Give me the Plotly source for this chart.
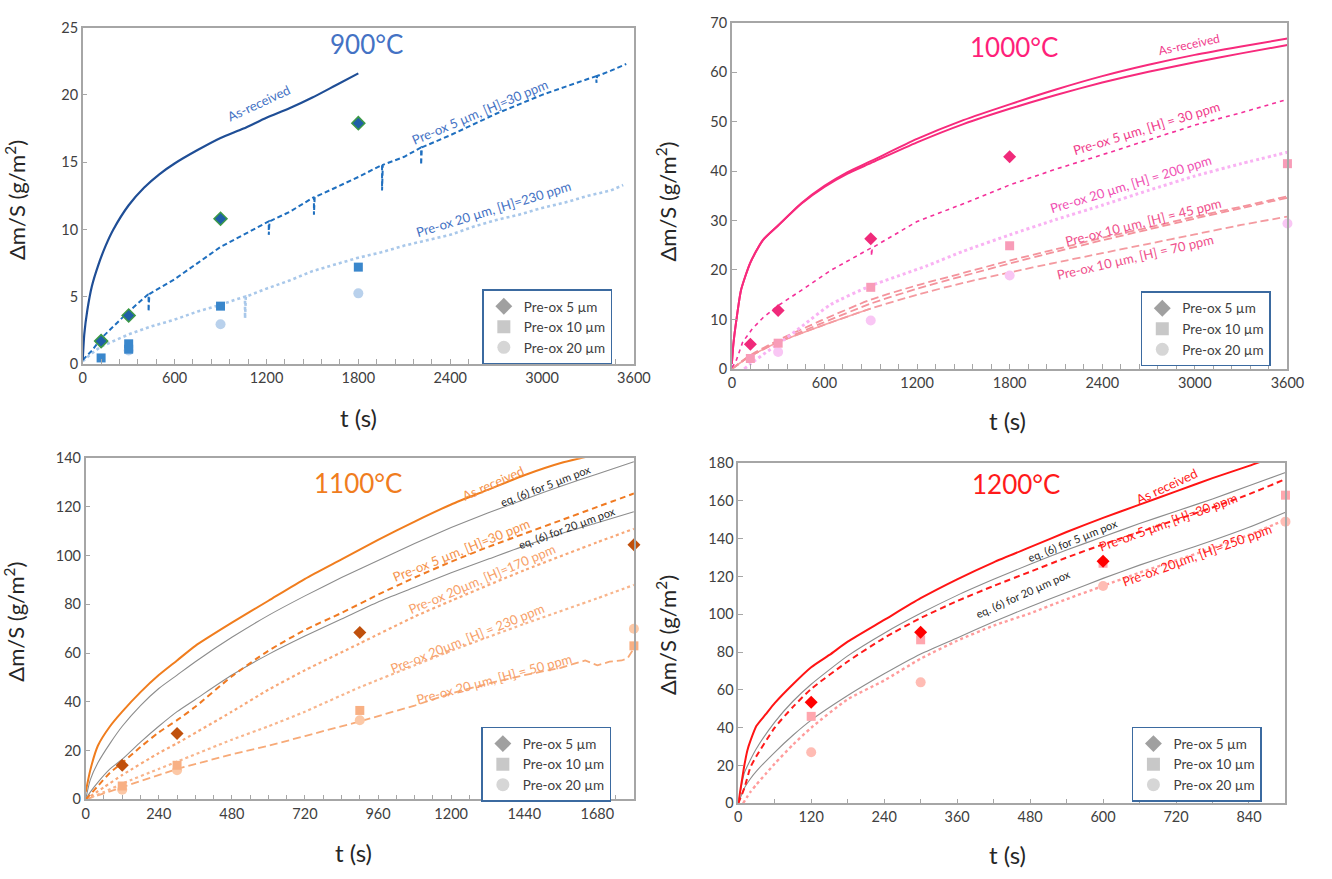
import plotly.graph_objects as go

# ---------------- 900 °C ----------------
t900_ar = [0, 10, 30, 60, 100, 150, 200, 300, 400, 500, 600, 750, 900, 1050, 1200, 1350, 1500, 1650, 1800]
v900_ar = [0.3, 2.2, 4.0, 5.8, 7.3, 8.8, 10.0, 11.8, 13.1, 14.1, 14.9, 15.9, 16.8, 17.5, 18.3, 19.0, 19.8, 20.7, 21.6]
t900_p5 = [0, 60, 120, 200, 300, 430, 430, 435, 600, 750, 900, 1050, 1215, 1215, 1220, 1350, 1510, 1510, 1515,
           1650, 1800, 1955, 1955, 1960, 2100, 2210, 2210, 2215, 2400, 2550, 2700, 2850, 3000, 3150, 3300, 3355, 3355, 3360, 3450, 3550]
v900_p5 = [0.3, 1.0, 1.9, 2.8, 3.9, 5.2, 3.9, 5.2, 6.3, 7.5, 8.7, 9.6, 10.6, 9.6, 10.6, 11.3, 12.4, 11.1, 12.4,
           13.1, 13.9, 14.8, 12.9, 14.8, 15.4, 16.1, 14.8, 16.1, 17.0, 17.8, 18.6, 19.3, 20.0, 20.6, 21.2, 21.4, 20.9, 21.4, 21.8, 22.3]
t900_p20 = [0, 60, 120, 200, 300, 450, 600, 750, 900, 1000, 1060, 1060, 1065, 1200, 1350, 1500, 1650, 1800, 1950,
            2100, 2250, 2400, 2550, 2700, 2850, 3000, 3150, 3300, 3450, 3530]
v900_p20 = [0.2, 0.8, 1.3, 1.7, 2.2, 2.8, 3.3, 3.9, 4.4, 4.8, 5.0, 3.4, 5.0, 5.6, 6.2, 6.9, 7.4, 7.9, 8.3,
            8.8, 9.2, 9.6, 10.2, 10.7, 11.1, 11.6, 12.0, 12.5, 12.9, 13.3]
t900_d5 = [120, 300, 900, 1800]
v900_d5 = [1.7, 3.6, 10.8, 17.9]
t900_s10 = [120, 300, 300, 900, 1800]
v900_s10 = [0.45, 1.5, 1.1, 4.3, 7.2]
t900_c20 = [300, 900, 1800]
v900_c20 = [1.0, 2.95, 5.25]

# ---------------- 1000 °C ----------------
t1000_ar = [0, 10, 30, 60, 120, 200, 300, 450, 600, 750, 900, 1200, 1500, 1800, 2100, 2400, 2700, 3000, 3300, 3600]
v1000_ar1 = [1.0, 5, 10, 16, 21.5, 26, 29, 33.5, 37, 39.8, 42, 46.5, 50.3, 53.5, 56.5, 59.2, 61.5, 63.5, 65.2, 66.8]
v1000_ar2 = [1.0, 5, 10, 16, 21.5, 26, 29, 33.4, 36.8, 39.5, 41.6, 45.8, 49.5, 52.6, 55.4, 57.9, 60.1, 62.0, 63.8, 65.5]
t1000_p5 = [0, 25, 70, 130, 200, 300, 470, 640, 830, 905, 905, 910, 1200, 1500, 1800, 2100, 2400, 2700, 3000, 3300, 3600]
v1000_p5 = [0.3, 1.4, 5.4, 8.0, 10.3, 12.8, 16.3, 19.9, 23.2, 24.5, 22.8, 24.5, 29.8, 33.4, 37.2, 40.4, 43.3, 46.3, 49.3, 51.8, 54.5]
t1000_p20 = [80, 150, 220, 300, 470, 640, 900, 1260, 1500, 1800, 2100, 2400, 2700, 3000, 3300, 3600]
v1000_p20 = [0.0, 1.7, 3.3, 5.0, 9.0, 13.0, 16.8, 20.8, 23.8, 27.1, 30.2, 33.1, 36.1, 39.0, 41.5, 43.8]
t1000_p10 = [0, 110, 300, 580, 900, 1200, 1500, 1800, 2100, 2400, 2700, 3000, 3300, 3600]
v1000_p10a = [0, 2.6, 5.8, 9.8, 14.0, 16.9, 19.4, 21.9, 24.2, 26.5, 28.6, 30.8, 32.8, 34.9]
v1000_p10b = [0, 2.4, 5.5, 9.2, 13.2, 16.2, 18.8, 21.3, 23.7, 26.0, 28.2, 30.4, 32.5, 34.6]
v1000_p10c = [0, 2.4, 5.4, 8.7, 12.2, 15.0, 17.4, 19.5, 21.5, 23.4, 25.3, 27.2, 29.1, 30.8]
t1000_p10s = [0, 110, 300, 580, 900]
v1000_p10s = [0, 2.4, 5.4, 8.7, 12.2]
t1000_d5 = [120, 300, 900, 1800]
v1000_d5 = [5.0, 11.8, 26.3, 42.9]
t1000_s10 = [120, 300, 900, 1800, 3600]
v1000_s10 = [2.1, 5.2, 16.5, 24.9, 41.5]
t1000_c20 = [300, 900, 1800, 3600]
v1000_c20 = [3.4, 9.8, 18.9, 29.4]

# ---------------- 1100 °C ----------------
t1100_ar = [0, 15, 40, 80, 120, 180, 240, 300, 360, 480, 600, 720, 840, 960, 1080, 1200, 1320, 1440, 1560, 1660]
v1100_ar = [3, 12, 22, 30, 36, 44, 51, 57, 63, 72.5, 81.5, 90.5, 98.5, 106.5, 114, 121, 127, 133, 138, 141]
t1100_eq = [0, 15, 40, 80, 120, 180, 240, 300, 360, 480, 600, 720, 840, 960, 1080, 1200, 1320, 1440, 1560, 1680, 1800]
v1100_eq5 = [0, 8, 15, 23, 30, 38.5, 45.5, 51, 56.5, 66.5, 75.5, 83.5, 91, 98, 105, 111.5, 117.5, 123, 128.5, 133.5, 138.5]
v1100_eq20 = [0, 3, 7, 12.5, 16.5, 23.5, 30, 36, 41, 51, 59.5, 67, 74, 81, 87, 93, 98.5, 104, 109, 113.5, 118]
v1100_p5 = [0, 2, 5.5, 11, 15, 21.5, 27.5, 32.5, 38, 50.5, 61, 69.5, 76.5, 84, 91, 97.5, 103.5, 109, 114.5, 120, 125.5]
t1100_p20 = [0, 60, 120, 240, 300, 480, 600, 720, 900, 1080, 1200, 1440, 1680, 1800]
v1100_p170 = [0, 5, 10, 19, 23, 36, 45, 53, 64, 75, 81.5, 94, 105.5, 111]
v1100_p230 = [0, 3, 6.5, 12.5, 15.5, 24.5, 30, 36, 46, 55, 61, 72, 82.5, 88]
t1100_p50 = [0, 60, 120, 240, 300, 480, 600, 720, 900, 1080, 1200, 1320, 1440, 1560, 1600, 1640, 1680, 1720, 1760, 1780, 1800]
v1100_p50 = [0, 2.5, 5, 10, 12.5, 18.5, 22, 26, 32, 38.5, 43.5, 47.5, 51, 54, 55.5, 57, 55, 56.5, 57, 58, 62]
t1100_d5 = [120, 300, 900, 1800]
v1100_d5 = [14, 27, 68.5, 104.5]
t1100_s10 = [120, 300, 900, 1800]
v1100_s10 = [5.5, 14, 36.5, 63]
t1100_c20 = [120, 300, 900, 1800]
v1100_c20 = [4, 12, 32.5, 70]

# ---------------- 1200 °C ----------------
t1200_ar = [0, 5, 10, 15, 20, 30, 45, 60, 90, 120, 150, 180, 240, 300, 360, 420, 480, 540, 600, 660, 720, 780, 840, 870]
v1200_ar = [0, 10, 20, 28, 33, 41, 47, 53, 63, 72, 78.5, 85.5, 97, 108.5, 118.5, 127.5, 135.5, 143.5, 151, 158, 165, 172, 178.5, 182]
t1200_eq = [0, 10, 20, 30, 60, 90, 120, 180, 240, 300, 360, 420, 480, 540, 600, 660, 720, 780, 840, 900]
v1200_eq5 = [0, 16, 23, 29, 43, 54, 63, 78, 90, 100.5, 110, 118.5, 126.5, 134, 141, 148, 154.5, 161, 168, 175]
v1200_eq20 = [0, 8, 13, 17, 27, 36, 44, 57, 68.5, 79, 87.5, 96, 104, 111.5, 119, 126, 132.5, 139, 146, 154]
v1200_p5 = [0, 8, 19, 25, 40, 51, 60.5, 75, 87.5, 98, 107, 115, 122.5, 130, 137, 143.5, 150, 156.5, 163.5, 171.5]
t1200_p20 = [8, 20, 30, 45, 60, 90, 120, 180, 240, 300, 360, 420, 480, 540, 600, 660, 720, 780, 840, 900]
v1200_p20 = [0, 6, 10, 15.5, 21, 31, 40, 55, 65, 76.5, 86, 94, 100.5, 108, 115, 122, 128.5, 135, 142, 150]
t1200_d5 = [120, 300, 600]
v1200_d5 = [53.5, 90.5, 128]
t1200_s10 = [120, 300, 600, 900]
v1200_s10 = [46, 86.5, 127, 163]
t1200_c20 = [120, 300, 600, 900]
v1200_c20 = [27, 64, 115, 149]

legend_names = ["Pre-ox 5 µm", "Pre-ox 10 µm", "Pre-ox 20 µm"]

FONT = "Lato, Open Sans, sans-serif"
GRAYEQ = "#8c8c8c"

fig = go.Figure()


def line(ax, t, v, color, width, dash="solid", smooth=True):
    fig.add_trace(go.Scatter(x=t, y=v, mode="lines", xaxis="x" + ax, yaxis="y" + ax,
                             line=dict(color=color, width=width, dash=dash,
                                       shape="spline" if smooth else "linear",
                                       smoothing=0.6 if smooth else None),
                             showlegend=False, hoverinfo="skip"))


def pts(ax, t, v, symbol, color, size, lc=None):
    fig.add_trace(go.Scatter(x=t, y=v, mode="markers", xaxis="x" + ax, yaxis="y" + ax,
                             marker=dict(symbol=symbol, color=color, size=size,
                                         line=dict(color=lc or color, width=1.5 if lc else 0)),
                             cliponaxis=False, showlegend=False, hoverinfo="skip"))


# 900
line("", t900_p20, v900_p20, "#a9c8ea", 2.6, "dot", smooth=False)
line("", t900_p5, v900_p5, "#1f6fbf", 2.0, "5px,3px", smooth=False)
line("", t900_ar, v900_ar, "#1f4e96", 2.2)
pts("", t900_c20, v900_c20, "circle", "#b9d1ec", 10)
pts("", t900_s10, v900_s10, "square", "#3a87cc", 9)
pts("", t900_d5, v900_d5, "diamond", "#1f5fa8", 10, "#3c9a46")

# 1000
line("2", t1000_p10s, v1000_p10s, "#f7a3a6", 1.6)
line("2", t1000_p10, v1000_p10c, "#f49aa0", 1.8, "8px,4px")
line("2", t1000_p10, v1000_p10b, "#f4939c", 1.8, "8px,4px")
line("2", t1000_p10, v1000_p10a, "#f4939c", 1.8, "8px,4px")
line("2", t1000_p20, v1000_p20, "#f9b2f3", 3.0, "dot")
line("2", t1000_p5, v1000_p5, "#f4309a", 1.6, "4px,4px", smooth=False)
line("2", t1000_ar, v1000_ar2, "#f72a7c", 2.0)
line("2", t1000_ar, v1000_ar1, "#f72a7c", 2.0)
pts("2", t1000_c20, v1000_c20, "circle", "#f9c6f4", 10)
pts("2", t1000_s10, v1000_s10, "square", "#f89cb8", 9)
pts("2", t1000_d5, v1000_d5, "diamond", "#f02a7a", 10)

# 1100
line("3", t1100_p50, v1100_p50, "#f7aa78", 1.8, "8px,4px", smooth=False)
line("3", t1100_p20, v1100_p230, "#f8b58c", 2.2, "dot")
line("3", t1100_p20, v1100_p170, "#f8a878", 2.2, "dot")
line("3", t1100_eq, v1100_eq20, GRAYEQ, 1.1)
line("3", t1100_eq, v1100_eq5, GRAYEQ, 1.1)
line("3", t1100_eq, v1100_p5, "#f07a22", 2.0, "6px,4px")
line("3", t1100_ar, v1100_ar, "#f07d1e", 2.0)
pts("3", t1100_c20, v1100_c20, "circle", "#fcc8a6", 10)
pts("3", t1100_s10, v1100_s10, "square", "#f8b084", 9)
pts("3", t1100_d5, v1100_d5, "diamond", "#c0500c", 10)

# 1200
line("4", t1200_p20, v1200_p20, "#ff9c9c", 2.4, "dot")
line("4", t1200_eq, v1200_eq20, GRAYEQ, 1.1)
line("4", t1200_eq, v1200_eq5, GRAYEQ, 1.1)
line("4", t1200_eq, v1200_p5, "#ff1a1a", 2.0, "6px,4px")
line("4", t1200_ar, v1200_ar, "#ff1414", 2.0)
pts("4", t1200_c20, v1200_c20, "circle", "#ffbcb4", 10)
pts("4", t1200_s10, v1200_s10, "square", "#ffa6ae", 9)
pts("4", t1200_d5, v1200_d5, "diamond", "#ff0000", 10)

# legends (one per panel)
leg_syms = ["diamond", "square", "circle"]
leg_cols = ["#a0a0a0", "#c8c8c8", "#d6d6d6"]
for k, lg in enumerate(["legend", "legend2", "legend3", "legend4"]):
    ax = "" if k == 0 else str(k + 1)
    for nm, sy, co in zip(legend_names, leg_syms, leg_cols):
        fig.add_trace(go.Scatter(x=[None], y=[None], mode="markers", name=nm, legend=lg,
                                 xaxis="x" + ax, yaxis="y" + ax,
                                 marker=dict(symbol=sy, color=co, size=13)))

W, H = 1332, 879
axis_common = dict(showgrid=False, zeroline=False, showline=True, linecolor="#a6a6a6", linewidth=1.5,
                   mirror=True, ticks="inside", tickcolor="#a6a6a6", ticklen=5,
                   tickfont=dict(family=FONT, size=14.5, color="#404040"))


def xax(dom, rng, dtick, minor, anchor):
    d = dict(axis_common)
    d.update(domain=dom, range=rng, dtick=dtick, tick0=0, anchor=anchor,
             minor=dict(dtick=minor, ticks="inside", ticklen=5, tickcolor="#a6a6a6"))
    return d


def yax(dom, rng, dtick, anchor):
    d = dict(axis_common)
    d.update(domain=dom, range=rng, dtick=dtick, tick0=0, anchor=anchor)
    return d


legend_common = dict(bgcolor="white", bordercolor="#3b6aa0", borderwidth=1.5,
                     font=dict(family=FONT, size=13.5, color="#404040"),
                     xanchor="left", yanchor="top", tracegroupgap=0, itemclick=False)

fig.update_layout(
    width=W, height=H, margin=dict(l=0, r=0, t=0, b=0),
    paper_bgcolor="white", plot_bgcolor="white",
    xaxis=xax([80 / W, 640 / W], [0, 3600], 600, 120, "y"),
    yaxis=yax([1 - 362 / H, 1 - 19 / H], [0, 25], 5, "x"),
    xaxis2=xax([739.5 / W, 1304 / W], [0, 3600], 600, 120, "y2"),
    yaxis2=yax([1 - 367 / H, 1 - 14 / H], [0, 70], 10, "x2"),
    xaxis3=xax([83 / W, 640 / W], [0, 1800], 240, 60, "y3"),
    yaxis3=yax([1 - 806 / H, 1 - 458 / H], [0, 140], 20, "x3"),
    xaxis4=xax([746 / W, 1302 / W], [0, 900], 120, 60, "y4"),
    yaxis4=yax([1 - 810 / H, 1 - 463 / H], [0, 180], 20, "x4"),
    legend=dict(legend_common, x=486 / W, y=1 - 286 / H),
    legend2=dict(legend_common, x=1155 / W, y=1 - 288 / H),
    legend3=dict(legend_common, x=485 / W, y=1 - 732 / H),
    legend4=dict(legend_common, x=1146 / W, y=1 - 732 / H),
)

ann = []
ytitle = "Δm/S (g/m<sup>2</sup>)"
for (xp, yp) in [(11, 195), (673, 196), (11, 625), (673, 638)]:
    ann.append(dict(text=ytitle, x=xp / W, y=1 - yp / H, xref="paper", yref="paper", showarrow=False,
                    xanchor="center", yanchor="middle",
                    textangle=-90, font=dict(family=FONT, size=22, color="#262626")))
for (xp, yp) in [(360, 417), (1020, 420), (355, 860), (1020, 862)]:
    ann.append(dict(text="t (s)", x=xp / W, y=1 - yp / H, xref="paper", yref="paper", showarrow=False,
                    xanchor="center", yanchor="middle",
                    font=dict(family=FONT, size=24, color="#262626")))


def lab(ax, t, v, text, color, angle, size=13):
    ann.append(dict(text=text, x=t, y=v, xref="x" + ax, yref="y" + ax, showarrow=False,
                    xanchor="center", yanchor="middle",
                    textangle=angle, font=dict(family=FONT, size=size, color=color)))


# titles
lab("", 1852, 23.8, "900°C", "#4472c4", 0, 26)
lab("2", 1826, 65, "1000°C", "#ff1f7a", 0, 26)
lab("3", 893, 130, "1100°C", "#f07d1e", 0, 26)
lab("4", 457, 168.8, "1200°C", "#ff1a1a", 0, 26)

# 900 labels
lab("", 1150, 19.4, "As-received", "#4472c4", -25, 13)
lab("", 2593, 18.7, "Pre-ox 5 µm, [H]=30 ppm", "#4472c4", -23, 13)
lab("", 2682, 11.5, "Pre-ox 20 µm, [H]=230 ppm", "#4472c4", -17, 13)
# 1000 labels
lab("2", 2960, 65.6, "As-received", "#f03c8c", -12, 12)
lab("2", 2688, 48.8, "Pre-ox 5 µm, [H] = 30 ppm", "#f03c8c", -17, 13)
lab("2", 2585, 37.3, "Pre-ox 20 µm, [H] = 200 ppm", "#f050b4", -17, 13)
lab("2", 2667, 29.8, "Pre-ox 10 µm, [H] = 45 ppm", "#f0508c", -14, 13)
lab("2", 2612, 22.6, "Pre-ox 10 µm, [H] = 70 ppm", "#f0508c", -13, 13)
# 1100 labels
lab("3", 1338, 129.9, "As received", "#f5924a", -24, 13)
lab("3", 1509, 128.6, "eq. (6) for 5 µm pox", "#262626", -21, 11)
lab("3", 1233, 102.5, "Pre-ox 5 µm, [H]=30 ppm", "#f5924a", -22, 13)
lab("3", 1581, 111.5, "eq. (6) for 20 µm pox", "#262626", -20, 11)
lab("3", 1300, 90.4, "Pre-ox 20µm, [H]=170 ppm", "#f7a068", -23, 13)
lab("3", 1254, 66.3, "Pre-ox 20µm, [H] = 230 ppm", "#f7a068", -22, 13)
lab("3", 1339, 49.3, "Pre-ox 20 µm, [H] = 50 ppm", "#f7a068", -15, 13)
# 1200 labels
lab("4", 705, 167.6, "As received", "#ff2020", -25, 13)
lab("4", 549, 139, "eq. (6) for 5 µm pox", "#262626", -22, 11)
lab("4", 707, 149, "Pre-ox 5 µm, [H]=30 ppm", "#ff2020", -20, 13)
lab("4", 469, 111, "eq. (6) for 20 µm pox", "#262626", -24, 11)
lab("4", 755, 131.3, "Pre-ox 20µm, [H]=250 ppm", "#ff2020", -20, 13)

fig.update_layout(annotations=ann)
fig.write_html("out.html")
